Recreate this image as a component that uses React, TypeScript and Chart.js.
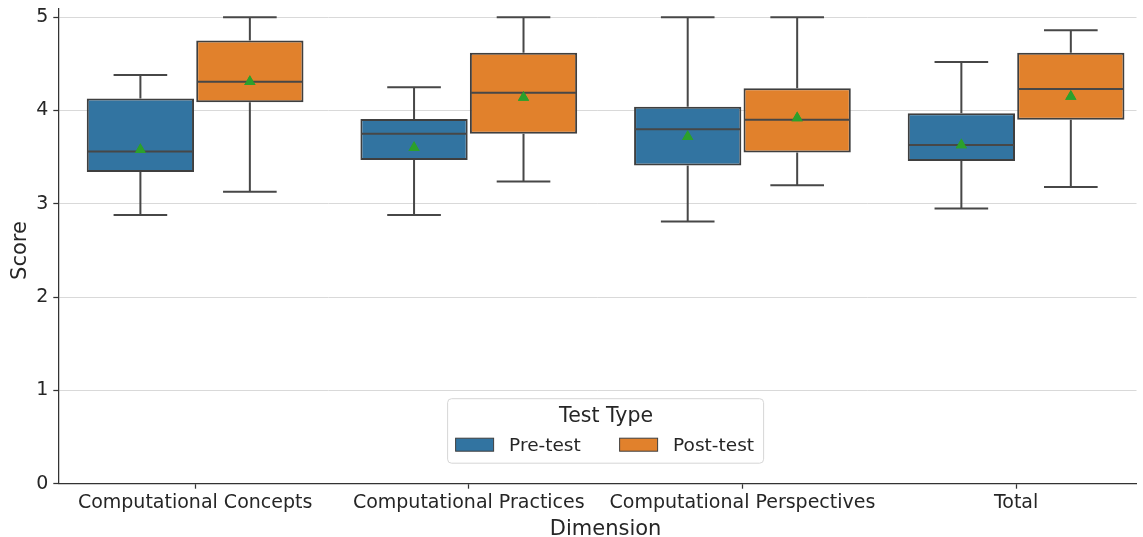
import React, { useEffect, useRef } from 'react';
import { Chart, registerables } from 'chart.js';
Chart.register(...registerables);

const categories = ['Computational Concepts', 'Computational Practices', 'Computational Perspectives', 'Total'];
const seriesNames = ['Pre-test', 'Post-test'];
const legendTitle = 'Test Type';
const xTitle = 'Dimension';
const yTitle = 'Score';

const preMin = [2.88, 2.88, 2.81, 2.95];
const preQ1 = [3.34, 3.47, 3.41, 3.46];
const preMedian = [3.56, 3.75, 3.8, 3.63];
const preQ3 = [4.13, 3.91, 4.04, 3.97];
const preMax = [4.38, 4.25, 5.0, 4.52];
const preMean = [3.58, 3.6, 3.72, 3.63];

const postMin = [3.13, 3.24, 3.2, 3.18];
const postQ1 = [4.09, 3.75, 3.55, 3.9];
const postMedian = [4.31, 4.19, 3.9, 4.23];
const postQ3 = [4.75, 4.62, 4.24, 4.62];
const postMax = [5.0, 5.0, 5.0, 4.86];
const postMean = [4.31, 4.14, 3.92, 4.15];

const yTicks = [0, 1, 2, 3, 4, 5];

const BLUE = '#3274a1';
const ORANGE = '#e1812c';
const GREEN = '#2ca02c';
const EDGE = '#3f3f3f';
const LINE = '#474747';
const TEXT = '#262626';
const FONT = '"DejaVu Sans", sans-serif';

export default function App() {
  const ref = useRef<HTMLCanvasElement>(null);

  useEffect(() => {
    const canvas = ref.current;
    if (!canvas) return;

    const groups = [
      { min: preMin, q1: preQ1, med: preMedian, q3: preQ3, max: preMax },
      { min: postMin, q1: postQ1, med: postMedian, q3: postQ3, max: postMax },
    ];
    const colors = [BLUE, ORANGE];

    const boxPlugin = {
      id: 'boxExtras',
      afterDraw(chart: any) {
        const ctx = chart.ctx as CanvasRenderingContext2D;
        const ys = chart.scales.y;
        const xs = chart.scales.x;
        const area = chart.chartArea;
        const py = (v: number) => ys.getPixelForValue(v);

        ctx.save();
        ctx.strokeStyle = LINE;
        ctx.lineWidth = 2;
        ctx.lineCap = 'butt';
        groups.forEach((g, d) => {
          const meta = chart.getDatasetMeta(d);
          meta.data.forEach((el: any, i: number) => {
            const { x, width } = el.getProps(['x', 'width'], true);
            const half = width / 2;
            ctx.beginPath();
            ctx.moveTo(x - half + 1, py(g.med[i]));
            ctx.lineTo(x + half - 1, py(g.med[i]));
            ctx.moveTo(x, py(g.q3[i]));
            ctx.lineTo(x, py(g.max[i]));
            ctx.moveTo(x, py(g.q1[i]));
            ctx.lineTo(x, py(g.min[i]));
            ctx.moveTo(x - half / 2, py(g.max[i]));
            ctx.lineTo(x + half / 2, py(g.max[i]));
            ctx.moveTo(x - half / 2, py(g.min[i]));
            ctx.lineTo(x + half / 2, py(g.min[i]));
            ctx.stroke();
          });
        });
        ctx.restore();

        // redraw mean markers above lines and grid
        [2, 3].forEach((d) => {
          const meta = chart.getDatasetMeta(d);
          if (meta && meta.controller) meta.controller.draw();
        });

        // axis titles
        ctx.save();
        ctx.fillStyle = TEXT;
        ctx.font = `21px ${FONT}`;
        ctx.textAlign = 'center';
        ctx.textBaseline = 'alphabetic';
        const cx = xs.getPixelForValue((categories.length - 1) / 2);
        ctx.fillText(xTitle, cx, 534.5);
        ctx.translate(25.5, py(2.5));
        ctx.rotate(-Math.PI / 2);
        ctx.fillText(yTitle, 0, 0);
        ctx.restore();

        // legend
        ctx.save();
        const lw = 316;
        const lh = 64.5;
        const left = cx - lw / 2;
        const top = area.bottom - 20.5 - lh;
        const r = 4;
        ctx.beginPath();
        ctx.moveTo(left + r, top);
        ctx.lineTo(left + lw - r, top);
        ctx.arcTo(left + lw, top, left + lw, top + r, r);
        ctx.lineTo(left + lw, top + lh - r);
        ctx.arcTo(left + lw, top + lh, left + lw - r, top + lh, r);
        ctx.lineTo(left + r, top + lh);
        ctx.arcTo(left, top + lh, left, top + lh - r, r);
        ctx.lineTo(left, top + r);
        ctx.arcTo(left, top, left + r, top, r);
        ctx.closePath();
        ctx.fillStyle = 'rgba(255,255,255,0.8)';
        ctx.fill();
        ctx.strokeStyle = '#d6d6d6';
        ctx.lineWidth = 1;
        ctx.stroke();

        ctx.fillStyle = TEXT;
        ctx.font = `20.5px ${FONT}`;
        ctx.textAlign = 'center';
        ctx.textBaseline = 'alphabetic';
        ctx.fillText(legendTitle, cx + 0.5, top + 23.5);

        ctx.font = `18.5px ${FONT}`;
        ctx.textAlign = 'left';
        const patchX = [left + 8, left + 172];
        seriesNames.forEach((name, k) => {
          const px = patchX[k];
          ctx.fillStyle = colors[k];
          ctx.fillRect(px, top + 39.5, 38, 13);
          ctx.strokeStyle = EDGE;
          ctx.lineWidth = 1;
          ctx.strokeRect(px, top + 39.5, 38, 13);
          ctx.fillStyle = TEXT;
          ctx.fillText(name, px + 53.5, top + 52.3);
        });
        ctx.restore();
      },
    };

    const chart = new Chart(canvas, {
      type: 'bar',
      data: {
        datasets: [
          {
            label: seriesNames[0],
            data: categories.map((_, i) => ({ x: i, y: [preQ1[i], preQ3[i]] })) as any,
            backgroundColor: BLUE,
            borderColor: EDGE,
            borderWidth: 2,
            borderSkipped: false,
            barPercentage: 0.98,
            categoryPercentage: 0.8,
            order: 2,
          },
          {
            label: seriesNames[1],
            data: categories.map((_, i) => ({ x: i, y: [postQ1[i], postQ3[i]] })) as any,
            backgroundColor: ORANGE,
            borderColor: EDGE,
            borderWidth: 2,
            borderSkipped: false,
            barPercentage: 0.98,
            categoryPercentage: 0.8,
            order: 2,
          },
          {
            type: 'scatter',
            label: seriesNames[0] + ' mean',
            data: categories.map((_, i) => ({ x: i - 0.2, y: preMean[i] })),
            pointStyle: 'triangle',
            radius: 6.5,
            backgroundColor: GREEN,
            borderColor: GREEN,
            borderWidth: 0,
            order: 1,
          } as any,
          {
            type: 'scatter',
            label: seriesNames[1] + ' mean',
            data: categories.map((_, i) => ({ x: i + 0.2, y: postMean[i] })),
            pointStyle: 'triangle',
            radius: 6.5,
            backgroundColor: GREEN,
            borderColor: GREEN,
            borderWidth: 0,
            order: 1,
          } as any,
        ],
      },
      options: {
        responsive: false,
        animation: false,
        devicePixelRatio: 1,
        layout: { padding: { top: 8.3, right: 0, bottom: 0, left: 0 } },
        plugins: {
          legend: { display: false },
          tooltip: { enabled: false },
        },
        scales: {
          x: {
            type: 'linear',
            min: -0.5,
            max: 3.44,
            offset: false,
            afterBuildTicks: (s: any) => {
              s.ticks = categories.map((_, i) => ({ value: i }));
            },
            afterFit: (s: any) => {
              s.height = 53.3;
              s.paddingLeft = 0;
              s.paddingRight = 0;
            },
            ticks: {
              callback: (v: any) => categories[v as number] ?? '',
              font: { family: FONT, size: 19 },
              color: TEXT,
              padding: 3,
              maxRotation: 0,
              autoSkip: false,
            },
            grid: {
              display: true,
              offset: false,
              drawOnChartArea: false,
              drawTicks: true,
              tickLength: 5,
              tickColor: '#333333',
              tickWidth: 1.25,
            },
            border: { display: true, color: '#333333', width: 1.25 },
          },
          y: {
            type: 'linear',
            min: 0,
            max: 5.096,
            z: 1,
            afterBuildTicks: (s: any) => {
              s.ticks = yTicks.map((v) => ({ value: v }));
            },
            afterFit: (s: any) => {
              s.width = 58.3;
              s.paddingTop = 0;
              s.paddingBottom = 0;
            },
            ticks: {
              font: { family: FONT, size: 19 },
              color: TEXT,
              padding: 5,
            },
            grid: {
              color: (c: any) => (c.tick && c.tick.value === 0 ? 'rgba(0,0,0,0)' : '#d9d9d9'),
              lineWidth: 1,
              tickLength: 5,
              tickColor: '#333333',
              tickWidth: 1.25,
            },
            border: { display: true, color: '#333333', width: 1.25 },
          },
        },
      } as any,
      plugins: [boxPlugin],
    });

    return () => chart.destroy();
  }, []);

  return (
    <div style={{ position: 'fixed', left: 0, top: 0, width: 1143, height: 537, background: '#ffffff' }}>
      <canvas ref={ref} width={1143} height={537} style={{ display: 'block' }} />
    </div>
  );
}
